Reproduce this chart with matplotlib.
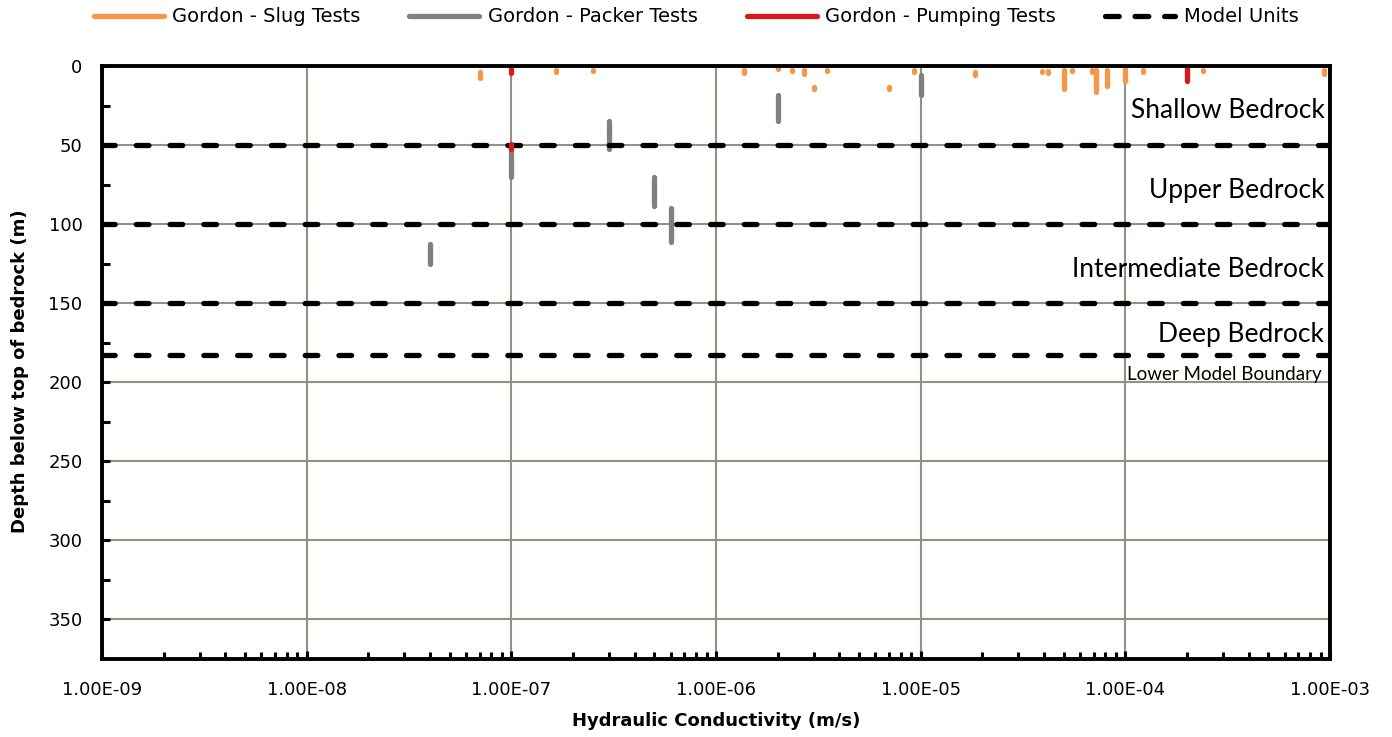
import matplotlib
matplotlib.use("Agg")
import matplotlib.pyplot as plt
from matplotlib.lines import Line2D
from matplotlib.ticker import FixedLocator, NullFormatter, FuncFormatter

# ---------------- data ----------------
slug_k = [7.0e-8, 1.65e-7, 2.5e-7, 1.37e-6, 2.0e-6, 2.35e-6, 2.7e-6, 3.0e-6, 3.5e-6,
          7.0e-6, 9.3e-6, 1.0e-5, 1.85e-5, 3.0e-5, 3.9e-5, 4.2e-5, 5.0e-5, 5.5e-5,
          6.9e-5, 7.2e-5, 8.1e-5, 9.4e-5, 1.0e-4, 1.22e-4, 2.4e-4, 9.3e-4]
slug_top = [4.0, 2.5, 2.5, 2.5, 1.5, 2.5, 2.5, 13.5, 2.5,
            13.5, 2.5, 1.5, 4.0, 3.0, 3.0, 3.0, 2.5, 2.5,
            2.5, 2.5, 2.5, 2.0, 1.5, 2.5, 2.5, 2.5]
slug_bot = [7.5, 4.0, 3.0, 4.5, 2.0, 3.0, 5.0, 14.5, 3.0,
            14.5, 3.5, 1.5, 5.5, 3.0, 4.0, 4.5, 14.5, 3.0,
            3.5, 16.5, 12.5, 2.0, 9.5, 4.0, 3.0, 5.0]

packer_k = [4.0e-8, 1.0e-7, 3.0e-7, 5.0e-7, 6.0e-7, 2.0e-6, 1.0e-5]
packer_top = [112.5, 52.0, 34.5, 70.5, 89.5, 18.5, 6.0]
packer_bot = [125.0, 70.0, 52.5, 88.5, 111.5, 34.5, 18.5]

pump_k = [1.0e-7, 1.0e-7, 2.0e-4]
pump_top = [2.0, 49.5, 1.5]
pump_bot = [4.5, 52.5, 9.5]

model_units = [50, 100, 150, 183]
zone_names = ["Shallow Bedrock", "Upper Bedrock", "Intermediate Bedrock", "Deep Bedrock"]
zone_depths = [28, 79, 129, 170]
boundary_name = "Lower Model Boundary"
boundary_depth = 195

x_ticks = [1e-9, 1e-8, 1e-7, 1e-6, 1e-5, 1e-4, 1e-3]
y_ticks = [0, 50, 100, 150, 200, 250, 300, 350]
y_minor = [25, 75, 125, 175, 225, 275, 325]

legend_labels = ["Gordon - Slug Tests", "Gordon - Packer Tests",
                 "Gordon - Pumping Tests", "Model Units"]

# ---------------- style ----------------
C_SLUG = "#F79646"
C_PACK = "#808080"
C_PUMP = "#D7191C"
C_GRID = "#978F82"
LW = 3.8

fig = plt.figure(figsize=(13.92, 7.37), dpi=100)
ax = fig.add_axes([102/1392, 1 - 659/737, (1330-102)/1392, (659-66)/737])

ax.set_xscale("log")
ax.set_xlim(1e-9, 1e-3)
ax.set_ylim(375, 0)

def draw_segments(ks, tops, bots, color, z):
    for k, t, b in zip(ks, tops, bots):
        ax.plot([k, k], [t, b], color=color, lw=LW, solid_capstyle="round",
                zorder=z, clip_on=False)

draw_segments(packer_k, packer_top, packer_bot, C_PACK, 3)
for d in model_units:
    ax.axhline(d, color="black", lw=LW, dashes=(2.4, 4.0),
               dash_capstyle="round", zorder=4)
draw_segments(slug_k, slug_top, slug_bot, C_SLUG, 5)
draw_segments(pump_k, pump_top, pump_bot, C_PUMP, 6)

# grid / ticks
minor_x = [m * 10.0**e for e in range(-9, -3) for m in range(2, 10)]
ax.yaxis.set_major_locator(FixedLocator(y_ticks))
ax.yaxis.set_minor_locator(FixedLocator(y_minor))
ax.xaxis.set_major_locator(FixedLocator(x_ticks))
ax.xaxis.set_minor_locator(FixedLocator(minor_x))
ax.xaxis.set_minor_formatter(NullFormatter())
ax.xaxis.set_major_formatter(FuncFormatter(lambda v, p: f"{v:.2E}"))
ax.grid(True, which="major", color=C_GRID, lw=1.5, zorder=1)
ax.set_axisbelow(True)

for s in ax.spines.values():
    s.set_color("black")
    s.set_linewidth(2.8)
    s.set_zorder(7)

ax.tick_params(axis="both", which="both", direction="in", color="black", width=2.2,
               labelsize=13, top=False, right=False)
ax.tick_params(axis="x", which="major", length=6, pad=16)
ax.tick_params(axis="x", which="minor", length=5)
ax.tick_params(axis="y", which="major", length=6, pad=14)
ax.tick_params(axis="y", which="minor", length=6)

ax.set_xlabel("Hydraulic Conductivity (m/s)", fontsize=13, fontweight="bold", labelpad=9)
ax.set_ylabel("Depth below top of bedrock (m)", fontsize=13, fontweight="bold")
ax.yaxis.set_label_coords(-0.0595, 0.485)

# zone labels
for name, d in zip(zone_names, zone_depths):
    ax.text(0.9955, d, name, transform=ax.get_yaxis_transform(), ha="right", va="center",
            fontsize=19, family="Lato", zorder=8)
ax.text(0.9935, boundary_depth, boundary_name, transform=ax.get_yaxis_transform(),
        ha="right", va="center", fontsize=13.5, family="Lato", zorder=8)

# legend
handles = [
    Line2D([], [], color=C_SLUG, lw=LW, solid_capstyle="round"),
    Line2D([], [], color=C_PACK, lw=LW, solid_capstyle="round"),
    Line2D([], [], color=C_PUMP, lw=LW, solid_capstyle="round"),
    Line2D([], [], color="black", lw=LW, dashes=(2.6, 3.0), dash_capstyle="round"),
]
fig.legend(handles, legend_labels, loc="center", bbox_to_anchor=(0.5, 1 - 17/737),
           ncol=4, frameon=False, fontsize=14, handlelength=3.6, handletextpad=0.45,
           columnspacing=2.5)

fig.savefig("out.png", dpi=100)
